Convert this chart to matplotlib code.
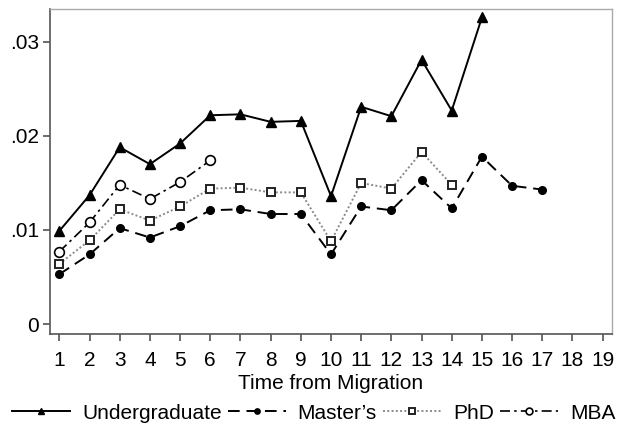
import matplotlib
matplotlib.use("Agg")
import matplotlib.pyplot as plt
import numpy as np

plt.rcParams['font.family'] = ['Liberation Sans', 'DejaVu Sans']

# Years since migration and estimated effects per degree group
years = list(range(1, 20))
tick_labels = [str(y) for y in years]
y_ticks = [0, 0.01, 0.02, 0.03]
y_tick_labels = ["0", ".01", ".02", ".03"]

undergrad = [0.0099, 0.0137, 0.0188, 0.0170, 0.0192, 0.0222, 0.0223, 0.0215,
             0.0216, 0.0136, 0.0231, 0.0221, 0.0281, 0.0227, 0.0326]
masters = [0.0053, 0.0074, 0.0102, 0.0092, 0.0104, 0.0121, 0.0122, 0.0117,
           0.0117, 0.0074, 0.0125, 0.0121, 0.0153, 0.0123, 0.0178, 0.0147,
           0.0143]
phd = [0.0064, 0.0089, 0.0122, 0.0110, 0.0125, 0.0144, 0.0145, 0.0140,
       0.0140, 0.0088, 0.0150, 0.0144, 0.0183, 0.0148]
mba = [0.0077, 0.0108, 0.0148, 0.0133, 0.0151, 0.0174]

fig = plt.figure(figsize=(6.21, 4.26), dpi=100)
ax = fig.add_axes([50 / 621, 1 - 334 / 426, 562 / 621, 325 / 426])

def xs(vals):
    return years[:len(vals)]

ax.plot(xs(undergrad), undergrad, color='black', lw=1.4, ls='-',
        marker='^', ms=6.5, mfc='black', mec='black', label='Undergraduate')
ax.plot(xs(masters), masters, color='black', lw=1.4, ls=(0, (6, 3.5)),
        marker='o', ms=5.5, mfc='black', mec='black', label="Master\u2019s")
ax.plot(xs(phd), phd, color='#8a8a8a', lw=1.4, ls=(0, (1, 1.2)),
        marker='s', ms=5.5, mfc='white', mec='#222222', mew=1.4, label='PhD')
ax.plot(xs(mba), mba, color='black', lw=1.2, ls=(0, (6, 2.5, 1.5, 2.5)),
        marker='o', ms=7, mfc='white', mec='black', mew=1.2, label='MBA')

ax.set_xlim(0.69, 19.31)
ax.set_ylim(-0.00106, 0.0335)
ax.set_xticks(years)
ax.set_xticklabels(tick_labels)
ax.set_yticks(y_ticks)
ax.set_yticklabels(y_tick_labels)

for s in ['left', 'bottom']:
    ax.spines[s].set_color('#555555')
    ax.spines[s].set_linewidth(1.2)
for s in ['top', 'right']:
    ax.spines[s].set_color('#aaaaaa')
    ax.spines[s].set_linewidth(1.0)

ax.tick_params(axis='both', direction='out', length=5, width=1.1,
               color='#444444', labelsize=15, labelcolor='black')
ax.tick_params(axis='x', pad=7)
ax.tick_params(axis='y', pad=3)

ax.set_xlabel('Time from Migration', fontsize=15, labelpad=3)

fig.legend(loc='lower center', bbox_to_anchor=(0.505, -0.012), ncol=4,
           frameon=False, fontsize=15, handlelength=2.8, handletextpad=0.55,
           columnspacing=0.3, borderaxespad=0.0, markerscale=0.7)

fig.savefig('out.png', dpi=100, facecolor='white')
